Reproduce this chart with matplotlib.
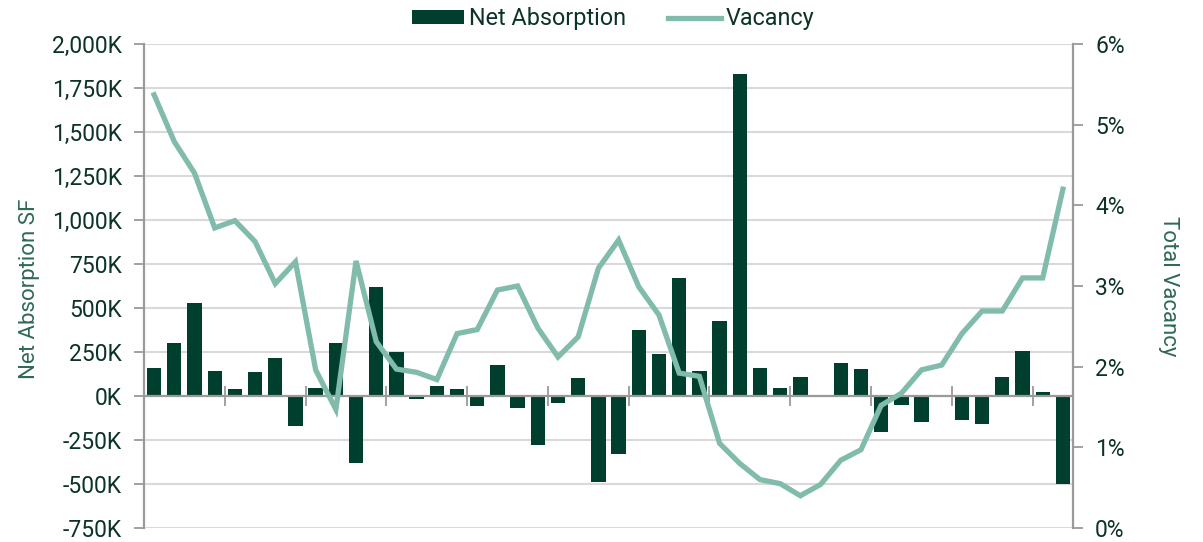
import matplotlib
matplotlib.use("Agg")
import matplotlib.pyplot as plt
from matplotlib.ticker import FuncFormatter, FixedLocator
import numpy as np

net_absorption_k = [157, 303, 528, 142, 42, 138, 218, -169, 45, 299, -383, 619, 248, -15,
                    59, 40, -57, 176, -68, -280, -38, 102, -487, -328, 373, 237, 669, 142,
                    426, 1831, 159, 47, 110, 0, 186, 152, -205, -53, -150, 0, -138, -157,
                    110, 256, 25, -500]
vacancy_pct = [5.37, 4.79, 4.40, 3.72, 3.81, 3.55, 3.03, 3.30, 1.96, 1.47, 3.31, 2.31, 1.97,
               1.93, 1.84, 2.41, 2.46, 2.95, 3.00, 2.48, 2.12, 2.37, 3.22, 3.57, 2.99, 2.64,
               1.92, 1.88, 1.05, 0.80, 0.60, 0.55, 0.40, 0.54, 0.84, 0.97, 1.52, 1.67, 1.96,
               2.02, 2.41, 2.69, 2.69, 3.10, 3.10, 4.20]
left_ticks = [-750, -500, -250, 0, 250, 500, 750, 1000, 1250, 1500, 1750, 2000]
right_ticks = [0, 1, 2, 3, 4, 5, 6]

BAR = "#003f2d"
LINE = "#80bbab"
TXT = "#0b3329"
TITLE = "#2f6a55"
AX = "#9a9a9a"
GRID = "#d9d9d9"
FONT = ["Roboto", "DejaVu Sans"]
plt.rcParams['font.family'] = FONT

fig = plt.figure(figsize=(12.03, 5.42), dpi=100)
ax = fig.add_axes([144/1203, 1-528/542, (1073-144)/1203, (528-44)/542])
x = np.arange(len(net_absorption_k))

ax.set_axisbelow(True)
ax.yaxis.grid(True, color=GRID, lw=1.5)
ax.bar(x, net_absorption_k, width=0.71, color=BAR, label="Net Absorption", zorder=2)
ax.set_xlim(-0.5, len(x) - 0.5)
ax.set_ylim(-750, 2000)
ax.yaxis.set_major_locator(FixedLocator(left_ticks))
ax.yaxis.set_major_formatter(FuncFormatter(lambda v, p: f"{int(v):,}K"))
ax.xaxis.set_major_locator(FixedLocator(np.arange(3.5, len(x) - 1, 4)))
ax.set_xticklabels([])
ax.tick_params(axis='x', direction='inout', length=15, width=1.3, color=AX)
ax.tick_params(axis='y', direction='out', length=7, width=1.3, color=AX,
               labelsize=16.5, labelcolor=TXT, pad=9)
for s in ['top', 'right']:
    ax.spines[s].set_visible(False)
ax.spines['bottom'].set_position(('data', 0))
ax.spines['bottom'].set_color(AX)
ax.spines['bottom'].set_linewidth(1.6)
ax.spines['bottom'].set_zorder(3)
ax.spines['left'].set_color(AX)
ax.spines['left'].set_linewidth(1.6)

ax2 = ax.twinx()
ax2.plot(x, vacancy_pct, color=LINE, lw=3.8, solid_joinstyle='miter', label="Vacancy", zorder=4)
ax2.set_ylim(0, 6)
ax2.yaxis.set_major_locator(FixedLocator(right_ticks))
ax2.yaxis.set_major_formatter(FuncFormatter(lambda v, p: f"{int(v)}%"))
ax2.tick_params(axis='y', direction='out', length=7, width=1.3, color=AX,
                labelsize=16.5, labelcolor=TXT, pad=9)
for s in ['top', 'left', 'bottom']:
    ax2.spines[s].set_visible(False)
ax2.spines['right'].set_color(AX)
ax2.spines['right'].set_linewidth(1.6)

fig.text(30/1203, 1-288.5/542, "Net Absorption SF", rotation=90, ha='center', va='center',
         fontsize=16, color=TITLE)
fig.text(1169/1203, 1-286.5/542, "Total Vacancy", rotation=-90, ha='center', va='center',
         fontsize=16, color=TITLE)

h1, l1 = ax.get_legend_handles_labels()
h2, l2 = ax2.get_legend_handles_labels()
fig.legend(h1 + h2, l1 + l2, loc='center', bbox_to_anchor=(613/1203, 1-19/542), ncol=2,
           frameon=False, fontsize=16.8, labelcolor=TXT, handlelength=2.25, handletextpad=0.2,
           columnspacing=1.8, handleheight=0.55)

fig.savefig("out.png", dpi=100)
